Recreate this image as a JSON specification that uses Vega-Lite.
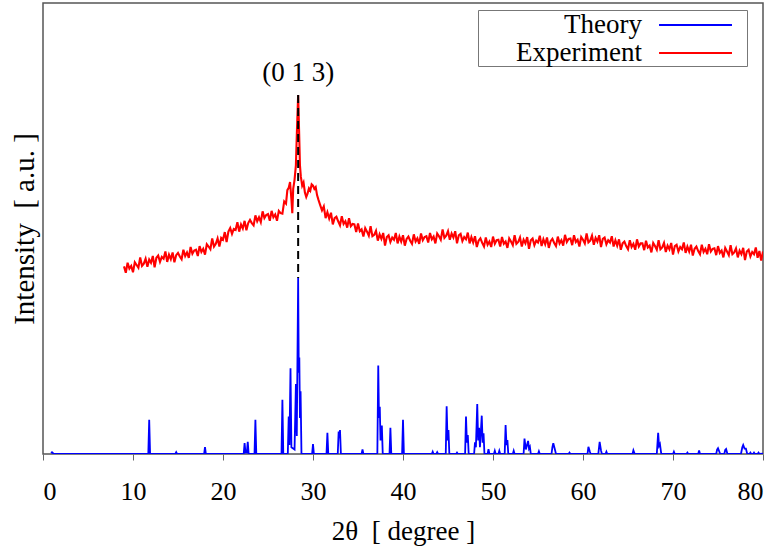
{
  "$schema": "https://vega.github.io/schema/vega-lite/v6.json",
  "width": 720,
  "height": 451,
  "autosize": {"type": "none"},
  "padding": {"left": 43, "top": 3, "right": 19, "bottom": 98},
  "background": "white",
  "config": {
    "view": {"stroke": "#555", "strokeWidth": 1.5},
    "font": "Liberation Serif, Times New Roman, serif",
    "axis": {"grid": false, "labelFont": "Liberation Serif, Times New Roman, serif", "titleFont": "Liberation Serif, Times New Roman, serif", "titleFontWeight": "normal", "labelColor": "black", "titleColor": "black"},
    "legend": {"labelFont": "Liberation Serif, Times New Roman, serif"},
    "text": {"font": "Liberation Serif, Times New Roman, serif"}
  },
  "datasets": {
    "exp": [
      {"t":9.0,"v":41.6},{"t":9.2,"v":40.2},{"t":9.4,"v":42.4},{"t":9.6,"v":41.1},{"t":9.8,"v":41.7},{"t":10.0,"v":40.3},{"t":10.2,"v":42.5},{"t":10.4,"v":41.9},{"t":10.6,"v":41.3},{"t":10.8,"v":43.6},
      {"t":11.0,"v":41.7},{"t":11.2,"v":42.2},{"t":11.4,"v":43.3},{"t":11.6,"v":41.5},{"t":11.8,"v":43.1},{"t":12.0,"v":42.4},{"t":12.2,"v":43.9},{"t":12.4,"v":41.4},{"t":12.6,"v":43.5},{"t":12.8,"v":44.0},
      {"t":13.0,"v":42.6},{"t":13.2,"v":43.7},{"t":13.4,"v":43.3},{"t":13.6,"v":44.9},{"t":13.8,"v":42.6},{"t":14.0,"v":44.2},{"t":14.2,"v":43.2},{"t":14.4,"v":44.7},{"t":14.6,"v":42.5},{"t":14.8,"v":44.1},
      {"t":15.0,"v":44.6},{"t":15.2,"v":43.8},{"t":15.4,"v":43.2},{"t":15.6,"v":45.3},{"t":15.8,"v":43.9},{"t":16.0,"v":44.7},{"t":16.2,"v":43.5},{"t":16.4,"v":45.9},{"t":16.6,"v":44.4},{"t":16.8,"v":45.1},
      {"t":17.0,"v":45.3},{"t":17.2,"v":43.9},{"t":17.4,"v":46.1},{"t":17.6,"v":44.8},{"t":17.8,"v":45.5},{"t":18.0,"v":44.2},{"t":18.2,"v":46.5},{"t":18.4,"v":46.0},{"t":18.6,"v":45.4},{"t":18.8,"v":47.8},
      {"t":19.0,"v":46.0},{"t":19.2,"v":46.6},{"t":19.4,"v":47.8},{"t":19.6,"v":46.0},{"t":19.8,"v":47.9},{"t":20.0,"v":47.5},{"t":20.2,"v":49.2},{"t":20.4,"v":47.0},{"t":20.6,"v":49.3},{"t":20.8,"v":50.1},
      {"t":21.0,"v":48.8},{"t":21.2,"v":49.9},{"t":21.4,"v":49.7},{"t":21.6,"v":51.4},{"t":21.8,"v":49.3},{"t":22.0,"v":50.9},{"t":22.2,"v":50.0},{"t":22.4,"v":51.7},{"t":22.6,"v":49.6},{"t":22.8,"v":51.2},
      {"t":23.0,"v":51.9},{"t":23.2,"v":51.2},{"t":23.4,"v":50.7},{"t":23.6,"v":52.9},{"t":23.8,"v":51.6},{"t":24.0,"v":52.5},{"t":24.2,"v":51.4},{"t":24.4,"v":53.8},{"t":24.6,"v":52.3},{"t":24.8,"v":53.0},
      {"t":25.0,"v":53.2},{"t":25.2,"v":51.7},{"t":25.4,"v":53.9},{"t":25.6,"v":52.5},{"t":25.8,"v":53.1},{"t":26.0,"v":51.7},{"t":26.2,"v":53.9},{"t":26.4,"v":53.4},{"t":26.6,"v":53.3},{"t":26.8,"v":56.0},
      {"t":27.0,"v":55.5},{"t":27.15,"v":58.5},{"t":27.3,"v":59.0},{"t":27.45,"v":60.3},{"t":27.6,"v":56.5},{"t":27.7,"v":53.4},{"t":27.8,"v":58.8},{"t":27.95,"v":60.8},{"t":28.1,"v":64.0},{"t":28.22,"v":72.0},
      {"t":28.35,"v":79.6},{"t":28.45,"v":72.0},{"t":28.55,"v":64.0},{"t":28.65,"v":61.5},{"t":28.8,"v":59.5},{"t":28.95,"v":60.2},{"t":29.1,"v":58.0},{"t":29.25,"v":57.0},{"t":29.4,"v":57.8},{"t":29.55,"v":58.9},
      {"t":29.7,"v":58.4},{"t":29.85,"v":59.8},{"t":30.0,"v":59.5},{"t":30.15,"v":58.8},{"t":30.3,"v":59.2},{"t":30.45,"v":57.4},{"t":30.6,"v":56.4},{"t":30.8,"v":55.2},
      {"t":31.0,"v":54.0},{"t":31.2,"v":54.9},{"t":31.4,"v":52.3},{"t":31.6,"v":53.6},{"t":31.8,"v":52.2},{"t":32.0,"v":53.5},{"t":32.2,"v":50.9},{"t":32.4,"v":52.3},{"t":32.6,"v":52.6},{"t":32.8,"v":51.6},
      {"t":33.0,"v":50.7},{"t":33.2,"v":52.7},{"t":33.4,"v":51.0},{"t":33.6,"v":51.6},{"t":33.8,"v":50.2},{"t":34.0,"v":52.3},{"t":34.2,"v":50.5},{"t":34.4,"v":51.0},{"t":34.6,"v":50.9},{"t":34.8,"v":49.2},
      {"t":35.0,"v":51.1},{"t":35.2,"v":49.4},{"t":35.4,"v":49.8},{"t":35.6,"v":48.2},{"t":35.8,"v":50.1},{"t":36.0,"v":49.3},{"t":36.2,"v":48.4},{"t":36.4,"v":50.5},{"t":36.6,"v":48.3},{"t":36.8,"v":48.6},
      {"t":37.0,"v":49.5},{"t":37.2,"v":47.3},{"t":37.4,"v":48.7},{"t":37.6,"v":47.7},{"t":37.8,"v":49.0},{"t":38.0,"v":46.2},{"t":38.2,"v":48.1},{"t":38.4,"v":48.5},{"t":38.6,"v":47.0},{"t":38.8,"v":48.0},
      {"t":39.0,"v":47.5},{"t":39.2,"v":49.0},{"t":39.4,"v":46.7},{"t":39.6,"v":48.2},{"t":39.8,"v":47.1},{"t":40.0,"v":48.5},{"t":40.2,"v":46.2},{"t":40.4,"v":47.7},{"t":40.6,"v":48.2},{"t":40.8,"v":47.3},
      {"t":41.0,"v":46.6},{"t":41.2,"v":48.7},{"t":41.4,"v":47.1},{"t":41.6,"v":47.8},{"t":41.8,"v":46.6},{"t":42.0,"v":48.9},{"t":42.2,"v":47.4},{"t":42.4,"v":48.1},{"t":42.6,"v":48.3},{"t":42.8,"v":46.9},
      {"t":43.0,"v":49.0},{"t":43.2,"v":47.6},{"t":43.4,"v":48.2},{"t":43.6,"v":46.7},{"t":43.8,"v":48.9},{"t":44.0,"v":48.3},{"t":44.2,"v":47.5},{"t":44.4,"v":49.8},{"t":44.6,"v":47.9},{"t":44.8,"v":48.4},
      {"t":45.0,"v":49.4},{"t":45.2,"v":47.5},{"t":45.4,"v":48.9},{"t":45.6,"v":48.0},{"t":45.8,"v":49.4},{"t":46.0,"v":46.7},{"t":46.2,"v":48.5},{"t":46.4,"v":48.8},{"t":46.6,"v":47.2},{"t":46.8,"v":48.1},
      {"t":47.0,"v":47.6},{"t":47.2,"v":49.1},{"t":47.4,"v":46.7},{"t":47.6,"v":48.1},{"t":47.8,"v":46.9},{"t":48.0,"v":48.3},{"t":48.2,"v":45.9},{"t":48.4,"v":47.3},{"t":48.6,"v":47.8},{"t":48.8,"v":46.8},
      {"t":49.0,"v":46.0},{"t":49.2,"v":48.0},{"t":49.4,"v":46.4},{"t":49.6,"v":47.1},{"t":49.8,"v":45.9},{"t":50.0,"v":48.2},{"t":50.2,"v":46.6},{"t":50.4,"v":47.4},{"t":50.6,"v":47.5},{"t":50.8,"v":46.0},
      {"t":51.0,"v":48.1},{"t":51.2,"v":46.6},{"t":51.4,"v":47.1},{"t":51.6,"v":45.7},{"t":51.8,"v":47.8},{"t":52.0,"v":47.1},{"t":52.2,"v":46.3},{"t":52.4,"v":48.5},{"t":52.6,"v":46.6},{"t":52.8,"v":47.0},
      {"t":53.0,"v":48.0},{"t":53.2,"v":46.0},{"t":53.4,"v":47.5},{"t":53.6,"v":46.7},{"t":53.8,"v":48.1},{"t":54.0,"v":45.5},{"t":54.2,"v":47.4},{"t":54.4,"v":47.8},{"t":54.6,"v":46.3},{"t":54.8,"v":47.3},
      {"t":55.0,"v":46.9},{"t":55.2,"v":48.4},{"t":55.4,"v":46.1},{"t":55.6,"v":47.6},{"t":55.8,"v":46.5},{"t":56.0,"v":48.0},{"t":56.2,"v":45.7},{"t":56.4,"v":47.2},{"t":56.6,"v":47.7},{"t":56.8,"v":46.8},
      {"t":57.0,"v":46.1},{"t":57.2,"v":48.2},{"t":57.4,"v":46.7},{"t":57.6,"v":47.4},{"t":57.8,"v":46.2},{"t":58.0,"v":48.6},{"t":58.2,"v":47.0},{"t":58.4,"v":47.7},{"t":58.6,"v":47.8},{"t":58.8,"v":46.3},
      {"t":59.0,"v":48.5},{"t":59.2,"v":47.0},{"t":59.4,"v":47.5},{"t":59.6,"v":46.0},{"t":59.8,"v":48.1},{"t":60.0,"v":47.5},{"t":60.2,"v":46.7},{"t":60.4,"v":48.9},{"t":60.6,"v":46.9},{"t":60.8,"v":47.3},
      {"t":61.0,"v":48.4},{"t":61.2,"v":46.4},{"t":61.4,"v":47.9},{"t":61.6,"v":47.1},{"t":61.8,"v":48.5},{"t":62.0,"v":45.9},{"t":62.2,"v":47.7},{"t":62.4,"v":48.0},{"t":62.6,"v":46.5},{"t":62.8,"v":47.4},
      {"t":63.0,"v":46.9},{"t":63.2,"v":48.3},{"t":63.4,"v":46.0},{"t":63.6,"v":47.4},{"t":63.8,"v":46.2},{"t":64.0,"v":47.6},{"t":64.2,"v":45.3},{"t":64.4,"v":46.7},{"t":64.6,"v":47.1},{"t":64.8,"v":46.1},
      {"t":65.0,"v":45.4},{"t":65.2,"v":47.4},{"t":65.4,"v":45.9},{"t":65.6,"v":46.6},{"t":65.8,"v":45.3},{"t":66.0,"v":47.6},{"t":66.2,"v":46.0},{"t":66.4,"v":46.7},{"t":66.6,"v":46.7},{"t":66.8,"v":45.2},
      {"t":67.0,"v":47.3},{"t":67.2,"v":45.8},{"t":67.4,"v":46.2},{"t":67.6,"v":44.7},{"t":67.8,"v":46.8},{"t":68.0,"v":46.1},{"t":68.2,"v":45.3},{"t":68.4,"v":47.4},{"t":68.6,"v":45.4},{"t":68.8,"v":45.8},
      {"t":69.0,"v":46.8},{"t":69.2,"v":44.8},{"t":69.4,"v":46.2},{"t":69.6,"v":45.4},{"t":69.8,"v":46.8},{"t":70.0,"v":44.2},{"t":70.2,"v":46.1},{"t":70.4,"v":46.4},{"t":70.6,"v":44.9},{"t":70.8,"v":45.9},
      {"t":71.0,"v":45.4},{"t":71.2,"v":46.9},{"t":71.4,"v":44.6},{"t":71.6,"v":46.0},{"t":71.8,"v":44.9},{"t":72.0,"v":46.4},{"t":72.2,"v":44.0},{"t":72.4,"v":45.5},{"t":72.6,"v":46.0},{"t":72.8,"v":45.0},
      {"t":73.0,"v":44.3},{"t":73.2,"v":46.4},{"t":73.4,"v":44.8},{"t":73.6,"v":45.5},{"t":73.8,"v":44.3},{"t":74.0,"v":46.5},{"t":74.2,"v":44.9},{"t":74.4,"v":45.5},{"t":74.6,"v":45.6},{"t":74.8,"v":44.1},
      {"t":75.0,"v":46.1},{"t":75.2,"v":44.6},{"t":75.4,"v":45.1},{"t":75.6,"v":43.6},{"t":75.8,"v":45.7},{"t":76.0,"v":44.9},{"t":76.2,"v":44.1},{"t":76.4,"v":46.3},{"t":76.6,"v":44.3},{"t":76.8,"v":44.7},
      {"t":77.0,"v":45.6},{"t":77.2,"v":43.6},{"t":77.4,"v":45.1},{"t":77.6,"v":44.3},{"t":77.8,"v":45.7},{"t":78.0,"v":43.0},{"t":78.2,"v":44.9},{"t":78.4,"v":45.3},{"t":78.6,"v":43.8},{"t":78.8,"v":44.8},
      {"t":79.0,"v":44.3},{"t":79.2,"v":45.8},{"t":79.4,"v":43.5},{"t":79.6,"v":45.0},{"t":79.8,"v":42.9},{"t":80.0,"v":44.9}
    ],
    "theory": [
      {"t":0.9,"v":0.2},{"t":1.0,"v":0.4},{"t":1.2,"v":0},{"t":11.7,"v":0},{"t":11.8,"v":7.6},{"t":11.9,"v":0},{"t":14.7,"v":0},{"t":14.8,"v":0.4},{"t":14.9,"v":0},{"t":17.9,"v":0},{"t":18.0,"v":1.5},{"t":18.1,"v":0},
      {"t":22.3,"v":0},{"t":22.4,"v":2.4},{"t":22.5,"v":0.3},{"t":22.65,"v":0.3},{"t":22.75,"v":2.7},{"t":22.85,"v":0},{"t":23.5,"v":0},{"t":23.6,"v":7.6},{"t":23.7,"v":0},
      {"t":26.5,"v":0},{"t":26.6,"v":12.0},{"t":26.7,"v":0},{"t":27.2,"v":0},{"t":27.3,"v":8.3},{"t":27.38,"v":2.0},{"t":27.5,"v":19.0},{"t":27.6,"v":1.5},{"t":27.95,"v":1.0},{"t":28.1,"v":15.5},{"t":28.2,"v":4.0},{"t":28.35,"v":39.0},{"t":28.42,"v":18.0},{"t":28.48,"v":21.4},{"t":28.55,"v":8.0},{"t":28.62,"v":13.9},{"t":28.72,"v":0},
      {"t":29.9,"v":0},{"t":30.0,"v":2.2},{"t":30.1,"v":0},{"t":31.5,"v":0},{"t":31.6,"v":4.7},{"t":31.7,"v":0},{"t":32.75,"v":0},{"t":32.85,"v":5.0},{"t":32.92,"v":3.5},{"t":33.0,"v":5.3},{"t":33.1,"v":0},{"t":35.4,"v":0},{"t":35.5,"v":1.0},{"t":35.6,"v":0},
      {"t":37.15,"v":0},{"t":37.25,"v":19.6},{"t":37.33,"v":8.0},{"t":37.42,"v":10.5},{"t":37.5,"v":3.0},{"t":37.65,"v":6.3},{"t":37.75,"v":0},{"t":38.5,"v":0},{"t":38.6,"v":5.8},{"t":38.7,"v":0},{"t":39.9,"v":0},{"t":40.0,"v":7.6},{"t":40.1,"v":0},
      {"t":43.2,"v":0},{"t":43.3,"v":0.5},{"t":43.4,"v":0},{"t":43.7,"v":0},{"t":43.8,"v":0.4},{"t":43.9,"v":0},{"t":44.75,"v":0},{"t":44.85,"v":10.6},{"t":44.95,"v":3.0},{"t":45.05,"v":5.3},{"t":45.15,"v":0},{"t":45.9,"v":0},{"t":46.0,"v":0.3},{"t":46.1,"v":0},
      {"t":46.9,"v":0},{"t":47.0,"v":8.3},{"t":47.1,"v":2.5},{"t":47.2,"v":4.2},{"t":47.3,"v":0},{"t":47.9,"v":0},{"t":48.0,"v":2.6},{"t":48.1,"v":1.5},{"t":48.25,"v":11.1},{"t":48.35,"v":3.0},{"t":48.45,"v":5.8},{"t":48.55,"v":1.5},{"t":48.75,"v":8.5},{"t":48.85,"v":2.5},{"t":48.95,"v":4.6},{"t":49.05,"v":0},
      {"t":49.4,"v":0},{"t":49.5,"v":1.1},{"t":49.6,"v":0},{"t":50.1,"v":0},{"t":50.2,"v":0.7},{"t":50.3,"v":0},{"t":50.6,"v":0},{"t":50.7,"v":0.7},{"t":50.8,"v":0},{"t":51.3,"v":0},{"t":51.4,"v":6.4},{"t":51.5,"v":2.0},{"t":51.6,"v":3.1},{"t":51.7,"v":0},{"t":52.2,"v":0},{"t":52.3,"v":0.7},{"t":52.4,"v":0},
      {"t":53.4,"v":0},{"t":53.5,"v":3.4},{"t":53.65,"v":1.0},{"t":53.9,"v":2.9},{"t":54.0,"v":1.2},{"t":54.1,"v":1.6},{"t":54.2,"v":0},{"t":55.0,"v":0},{"t":55.1,"v":0.6},{"t":55.2,"v":0},{"t":56.5,"v":0},{"t":56.6,"v":1.5},{"t":56.7,"v":2.4},{"t":56.85,"v":1.2},{"t":57.0,"v":0},{"t":58.4,"v":0},{"t":58.5,"v":0.3},{"t":58.6,"v":0},
      {"t":60.5,"v":0},{"t":60.6,"v":1.6},{"t":60.75,"v":0.6},{"t":60.85,"v":0},{"t":61.7,"v":0},{"t":61.85,"v":2.7},{"t":62.0,"v":0.8},{"t":62.1,"v":0},{"t":62.5,"v":0},{"t":62.6,"v":0.5},{"t":62.7,"v":0},{"t":65.5,"v":0},{"t":65.6,"v":0.8},{"t":65.75,"v":0},
      {"t":68.2,"v":0},{"t":68.35,"v":4.7},{"t":68.45,"v":1.8},{"t":68.55,"v":2.2},{"t":68.7,"v":0},{"t":70.0,"v":0},{"t":70.1,"v":0.5},{"t":70.2,"v":0},{"t":71.5,"v":0},{"t":71.6,"v":0.3},{"t":71.7,"v":0},{"t":72.8,"v":0},{"t":72.9,"v":0.8},{"t":73.0,"v":0},
      {"t":74.8,"v":0},{"t":74.9,"v":1.0},{"t":75.0,"v":1.3},{"t":75.15,"v":0.5},{"t":75.25,"v":0},{"t":75.7,"v":0},{"t":75.8,"v":0.9},{"t":75.9,"v":1.1},{"t":76.05,"v":0},{"t":77.55,"v":0},{"t":77.7,"v":1.5},{"t":77.8,"v":2.0},{"t":77.95,"v":1.2},{"t":78.1,"v":1.2},{"t":78.25,"v":0},
      {"t":78.5,"v":0},{"t":78.6,"v":0.3},{"t":78.7,"v":0},{"t":78.9,"v":0},{"t":79.0,"v":0.3},{"t":79.1,"v":0},{"t":79.4,"v":0},{"t":79.5,"v":0.3},{"t":79.6,"v":0},{"t":80.0,"v":0.1}
    ]
  },
  "layer": [
    {
      "data": {"name": "theory"},
      "transform": [{"calculate": "'Theory'", "as": "s"}],
      "mark": {"type": "line", "strokeWidth": 1.8, "clip": true},
      "encoding": {
        "x": {"field": "t", "type": "quantitative", "scale": {"domain": [0, 80], "nice": false},
          "axis": {"values": [0,10,20,30,40,50,60,70,80], "domain": false, "tickSize": 6, "tickColor": "#666", "labelFontSize": 26, "labelPadding": 18, "titleFontSize": 27, "titlePadding": 14, "title": "2θ\u00a0 [ degree ]"}},
        "y": {"field": "v", "type": "quantitative", "scale": {"domain": [0, 100], "nice": false},
          "axis": {"labels": false, "ticks": false, "domain": false, "title": "Intensity\u00a0 [ a.u. ]", "titleFontSize": 29, "titlePadding": 4}},
        "color": {"field": "s", "type": "nominal", "scale": {"domain": ["Theory", "Experiment"], "range": ["#0000ff", "#ff0000"]},
          "legend": {"title": null, "orient": "none", "legendX": 435, "legendY": 7, "symbolType": "M11.86,0H17.07M17.85,0", "symbolSize": 784, "symbolStrokeWidth": 2, "labelFontSize": 27, "labelAlign": "right", "labelOffset": 134, "labelLimit": 300, "fillColor": "white", "strokeColor": "#777", "padding": 0, "rowPadding": -1}}
      }
    },
    {
      "data": {"name": "exp"},
      "transform": [{"calculate": "'Experiment'", "as": "s"}],
      "mark": {"type": "line", "strokeWidth": 2.1, "clip": true},
      "encoding": {
        "x": {"field": "t", "type": "quantitative"},
        "y": {"field": "v", "type": "quantitative"},
        "color": {"field": "s", "type": "nominal"}
      }
    },
    {
      "data": {"values": [{"t": 28.35, "lo": 39.0, "hi": 79.6}]},
      "mark": {"type": "rule", "color": "black", "strokeWidth": 2, "strokeDash": [8, 5]},
      "encoding": {
        "x": {"field": "t", "type": "quantitative"},
        "y": {"field": "hi", "type": "quantitative"},
        "y2": {"field": "lo"}
      }
    },
    {
      "data": {"values": [{"t": 28.35, "v": 82.6, "label": "(0 1 3)"}]},
      "mark": {"type": "text", "fontSize": 27, "baseline": "alphabetic", "align": "center", "color": "black"},
      "encoding": {
        "x": {"field": "t", "type": "quantitative"},
        "y": {"field": "v", "type": "quantitative"},
        "text": {"field": "label"}
      }
    }
  ]
}
